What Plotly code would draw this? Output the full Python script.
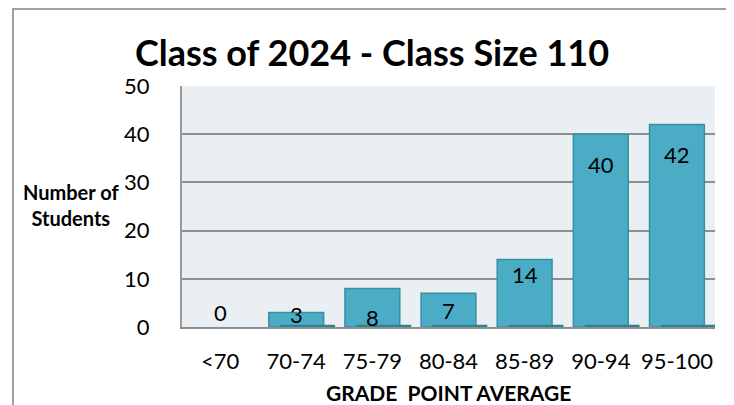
import plotly.graph_objects as go

categories = ["<70", "70-74", "75-79", "80-84", "85-89", "90-94", "95-100"]
students = [0, 3, 8, 7, 14, 40, 42]
y_ticks = [0, 10, 20, 30, 40, 50]

title_text = "Class of 2024 - Class Size 110"
x_title = "GRADE  POINT AVERAGE"
y_title = "Number of<br>Students"

# label vertical offsets (pixels, styling only)
label_shift = [15, -2, -29, -17, -15, -30, -30]

# page body has an 8px default margin, so lay out in window pixels minus 8
OFF = 8
W, H = 734 - OFF, 405 - OFF
L = 182 - OFF
T = 86 - OFF
R = 734 - 715
B = 405 - 327
pw, ph = W - L - R, H - T - B

FONT = "Lato"
BAR = "#4BACC6"
BAR_LINE = "#3A8EA4"
BASE = "#2F8196"

def px_x(wx):
    return (wx - OFF - L) / pw

def px_y(wy):
    return 1 - (wy - OFF - T) / ph

fig = go.Figure()

fig.add_trace(go.Bar(
    x=categories, y=students,
    width=0.72,
    marker=dict(color=BAR, line=dict(color=BAR_LINE,
                                     width=[1.5 if v > 0 else 0 for v in students])),
    hoverinfo="skip",
))

# darker offset base strip under each non-zero bar
base_vals = [0.45 if v > 0 else 0 for v in students]
fig.add_trace(go.Bar(
    x=categories, y=base_vals,
    width=0.72, offset=-0.36 + 0.15,
    marker=dict(color=BASE, line=dict(width=0)),
    hoverinfo="skip",
))

for i, (c, v) in enumerate(zip(categories, students)):
    fig.add_annotation(
        x=c, y=v, xref="x", yref="y",
        text=str(v), showarrow=False,
        yanchor="middle", yshift=label_shift[i],
        font=dict(family=FONT, size=22, color="#000000"),
    )

# axis titles
fig.add_annotation(
    xref="paper", yref="paper",
    x=px_x(71), y=px_y(205),
    text="<b>" + y_title + "</b>", showarrow=False, align="center",
    xanchor="center", yanchor="middle",
    font=dict(family=FONT, size=20, color="#000000"),
)
fig.add_annotation(
    xref="paper", yref="paper",
    x=0.5, y=px_y(392),
    text="<b>" + x_title + "</b>", showarrow=False,
    xanchor="center", yanchor="middle",
    font=dict(family=FONT, size=21, color="#000000"),
)

# outer chart frame
fig.add_shape(
    type="rect", xref="paper", yref="paper",
    x0=px_x(13), x1=px_x(732),
    y0=px_y(430), y1=px_y(9),
    line=dict(color="#A0A0A0", width=2), fillcolor="rgba(0,0,0,0)",
    layer="below",
)

fig.update_layout(
    width=W, height=H,
    margin=dict(l=L, r=R, t=T, b=B),
    paper_bgcolor="#FFFFFF",
    plot_bgcolor="#E9EFF3",
    barmode="overlay",
    showlegend=False,
    title=dict(
        text="<b>" + title_text + "</b>",
        x=(372 - OFF) / W, xanchor="center",
        y=1 - (53 - OFF) / H, yanchor="middle",
        font=dict(family=FONT, size=36, color="#000000"),
    ),
    font=dict(family=FONT, color="#000000"),
)

fig.update_xaxes(
    type="category",
    showgrid=False,
    showline=True, linecolor="#8C8C8C", linewidth=2,
    ticks="", ticklabelstandoff=14,
    tickfont=dict(family=FONT, size=22, color="#000000"),
    range=[-0.5, 6.5],
)
fig.update_yaxes(
    range=[0, 50],
    tickvals=y_ticks,
    showgrid=True, gridcolor="#8F8F8F", gridwidth=1.5,
    showline=True, linecolor="#9A9A9A", linewidth=2,
    zeroline=False,
    ticks="", ticklabelstandoff=26,
    tickfont=dict(family=FONT, size=22, color="#000000"),
)

fig.write_html("out.html")
